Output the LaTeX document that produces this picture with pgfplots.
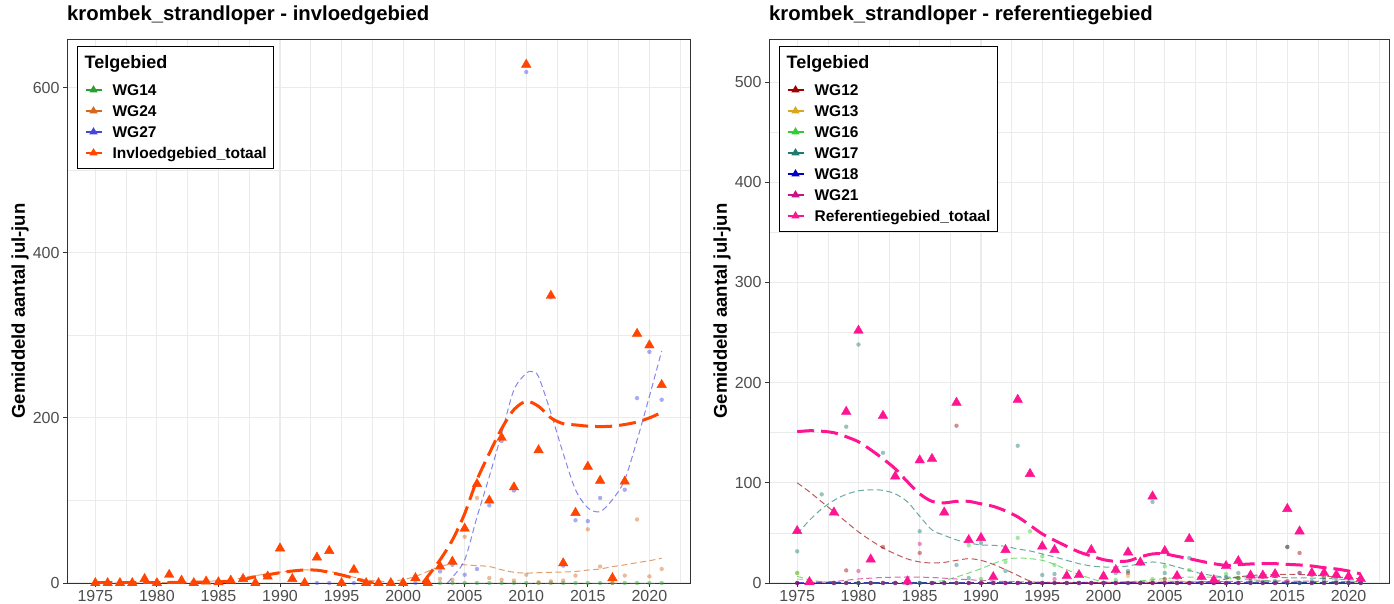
\documentclass[border=0pt]{standalone}
\usepackage{fontspec}
\setmainfont{Liberation Sans}
\usepackage{pgfplots}
\usepackage{pgfplotstable}
\pgfplotsset{compat=1.18}

\definecolor{gridc}{HTML}{EBEBEB}
\definecolor{framec}{HTML}{333333}
\definecolor{tickc}{HTML}{4D4D4D}
\definecolor{cWGa}{HTML}{2CA02C}
\definecolor{cWGb}{HTML}{D2691E}
\definecolor{cWGc}{HTML}{4545E0}
\definecolor{cTotL}{HTML}{FF4500}
\definecolor{cRa}{HTML}{A00000}
\definecolor{cRb}{HTML}{DAA520}
\definecolor{cRc}{HTML}{32CD32}
\definecolor{cRd}{HTML}{1B7A72}
\definecolor{cRe}{HTML}{0000CD}
\definecolor{cRf}{HTML}{C71585}
\definecolor{cTotR}{HTML}{FF1493}

% ---------------- left panel data ----------------
\pgfplotstableread{
year tot wga wgb wgc
1975 0 nan 0 nan
1976 0 nan 0 nan
1977 0 nan 0 nan
1978 0 nan 0 nan
1979 5 nan 5 nan
1980 0 nan 0 nan
1981 10 nan 10 nan
1982 3 nan 3 nan
1983 0 nan 0 nan
1984 2 nan 2 nan
1985 1 nan 1 nan
1986 3 nan 3 nan
1987 5 nan 5 nan
1988 0 nan 0 nan
1989 8 nan 8 nan
1990 42 nan 42 nan
1991 5 nan 5 nan
1992 0 nan 0 nan
1993 31 nan 31 0
1994 39 nan 39 0
1995 0 nan 0 0
1996 16 nan 16 0
1997 0 nan 0 0
1998 0 nan 0 0
1999 0 nan 0 0
2000 0 nan 0 0
2001 6 nan 6 0
2002 0 nan 0 0
2003 20 0 5 14
2004 26 0 4 22
2005 66 0 56 10
2006 120 0 103 17
2007 100 0 6 94
2008 176 0 4 172
2009 116 0 3 112
2010 628 0 10 619
2011 161 0 1 160
2012 348 0 2 346
2013 24 0 3 21
2014 85 0 9 76
2015 141 0 65 75
2016 124 0 20 103
2017 6 0 0 6
2018 123 0 9 113
2019 302 0 77 224
2020 288 0 8 280
2021 240 0 17 222
}\leftpts

\pgfplotstableread{
year v
1975 0.5
1977 0.5
1979 0.5
1981 0.6
1983 1
1985 1.5
1986 2.5
1987 4
1988 7.7
1989 10
1990 12.5
1991 14.5
1992 15.8
1993 15.5
1994 13
1995 9.7
1996 5.8
1997 1.5
1997.6 0
}\leftTotA

\pgfplotstableread{
year v
2001.6 0
2002 8
2003 28
2004 52
2005 84
2006 125
2007 157
2008 187
2009 210
2010 220
2011 214
2012 200
2013 193
2014 191.5
2015 190
2016 189.5
2017 190
2018 192
2019 195
2020 200
2021 206.5
}\leftTotB

\pgfplotstableread{
year v
1975 0
1978 0
1981 0.5
1984 2
1986 4
1988 9
1990 13
1992 16
1994 14
1996 7
1997 4
1998 2
1999 2
2000 4
2001 8
2002 14
2003 20
2004 23
2005 22
2006 21
2007 20
2008 16
2009 13
2010 12
2011 12.5
2012 13
2013 13.3
2014 14
2015 15.7
2016 17
2017 19.8
2018 22
2019 24.6
2020 27
2021 30
}\leftSmB

\pgfplotstableread{
year v
2003.6 0
2004 7
2005 28
2006 80
2007 129
2008 181
2009 234
2010 254
2010.5 256
2011 250
2012 206
2013 157
2014 113
2015 91
2016 86.5
2017 101
2018 125
2019 173
2020 226
2021 281
}\leftSmC

\pgfplotstableread{
year v
2003 0
2012 0
2021 0
}\leftSmA

% ---------------- right panel data ----------------
\pgfplotstableread{
year tot r12 r13 r16 r17 r18 r21
1975 52 0 10 10 31.6 0 0
1976 1 0 0 0 1 0 0
1977 nan nan nan nan 88.5 nan nan
1978 70.5 0 0 0 70 0 0
1979 171 12.6 0 0 156 0 0
1980 252 0 0 0 238 0 12
1981 23.6 0 0 0 23 0 0
1982 167 36 0 0 130 0 0
1983 106.5 0 0 0 106 0 0
1984 1.7 0 0 0 1.7 0 0
1985 122.5 30 0 0 51.6 0 39
1986 124 0 0 0 124 0 0
1987 70.5 0 0 0 70 0 0
1988 180 157 0 0 18 0 0
1989 43 0 0 37.6 5 0 0
1990 45 0 0 4 40 0 0
1991 6 0 0 0 6 0 0
1992 33 0 0 21 12 0 0
1993 183 0 0 45 137 0 0
1994 109 0 0 51.6 0 0 0
1995 36.6 0 0 26.6 8 0 0
1996 33 0 0 18 9 0 4
1997 7 0 0 0 7 0 0
1998 8 0 0 0 8 0 0
1999 33 0 0 0 33 0 0
2000 6.6 0 0 0 6 0 0
2001 13 0 0 3 10 0 0
2002 30.6 10 7 0 12 0 0
2003 20.6 0 0 0 19 0 0
2004 86.5 0 0 4 81 0 0
2005 32 4 0 16.6 10 0 0
2006 7 0 0 0 5 0 0
2007 44 0 0 13 25 0 0
2008 6 0 0 0 5 0 0
2009 3 0 0 0 3 0 0
2010 17 0 0 9 6 0 0
2011 22 5 0 5 10 0 0
2012 7.6 5 0 0 2 0 0
2013 7.6 6 0 0 1 0 0
2014 9 7 0 0 2 0 0
2015 74 36 0 0 36 0 2
2016 51.6 30 0 0 10 0 10
2017 10 8 0 0 2 0 0
2018 10 6 0 0 3 0 0
2019 8 6 0 0 2 0 0
2020 6.6 5 0 0 1 0 0
2021 4 3 0 0 1 0 0
}\rightpts

\pgfplotstableread{
year v
1975 151
1976 152
1977 151.5
1978 150
1979 146
1980 141
1981 133
1982 124
1983 114
1984 101
1985 89
1986 81.5
1987 80
1988 81.5
1989 81.5
1990 79
1991 76.5
1992 72
1993 66
1994 57.6
1995 49
1996 42.6
1997 36.6
1998 31
1999 27
2000 23.3
2001 21.6
2002 22
2003 26
2004 29
2005 29
2006 26.6
2007 24.3
2008 21.6
2009 19.3
2010 17.6
2011 18.3
2012 19
2013 19.3
2014 19.3
2015 18.6
2016 18
2017 17
2018 15.3
2019 14
2020 12
2021 9
}\rightTot

\pgfplotstableread{
year v
1975 49
1976 62.6
1977 74
1978 82.5
1979 88.5
1980 92
1981 93
1982 92.5
1983 89
1984 81
1985 66.6
1986 53
1987 47.6
1988 43
1989 40
1990 38
1991 37.6
1992 36.6
1993 34
1994 32
1995 29
1996 26
1997 22.6
1998 19.3
1999 17
2000 16
2001 16
2002 17
2003 19.3
2004 21
2005 19.3
2006 16
2007 12.6
2008 9.3
2009 7.3
2010 6
2012 6
2015 5.3
2018 4.6
2021 2.6
}\rightSmD

\pgfplotstableread{
year v
1975 100
1976 91
1977 81
1978 71
1979 61
1980 51
1981 42.6
1982 35
1983 29
1984 24
1985 21
1986 20
1987 20.6
1988 22.6
1989 24.3
1990 22.6
1991 18.6
1992 13.3
1993 7.6
1994 2
1995 0.3
1998 0.3
2002 0.3
2006 0.5
2008 1
2009 2
2010 4
2011 6
2012 7.5
2013 8
2014 8.5
2015 8.5
2016 8.5
2017 8
2018 7
2019 6
2020 5
2021 4
}\rightSmA

\pgfplotstableread{
year v
1975 6.6
1976 3.3
1977 1
1979 0.2
1982 0.2
1985 0.3
1986 1
1987 2.6
1988 6
1989 10
1990 14.3
1991 19.3
1992 23.6
1993 25
1994 24.3
1995 22.6
1996 18.6
1997 13.3
1998 8.6
1999 4.3
2000 1
2001 0.3
2002 1
2004 3.3
2006 5.3
2008 6
2010 5
2013 2.6
2016 1
2021 0.3
}\rightSmC

\pgfplotstableread{
year v
1976 0.5
1978 1.5
1980 4
1982 5.5
1984 6
1986 5.5
1988 4
1990 2.6
1992 1.5
1994 1
1996 0.5
2000 0.5
2005 1
2010 1.5
2015 2
2021 1
}\rightSmF

\pgfplotstableread{
year v
1975 4
1977 1.5
1980 0.5
1990 0.3
2000 1
2005 2
2010 1
2021 0.5
}\rightSmB

\pgfplotstableread{
year v
1975 0.2
2000 0.2
2021 0.2
}\rightSmE

\pgfplotsset{
  panel/.style={
    scale only axis, height=544pt, ymin=0, xmin=1972.7, xmax=2023.3,
    xtick={1975,1980,...,2020}, minor xtick={1977.5,1982.5,...,2022.5},
    grid=both,
    major grid style={draw=gridc, line width=1.1pt},
    minor grid style={draw=gridc, line width=0.6pt},
    axis line style={draw=framec, line width=0.9pt},
    tick style={draw=framec, line width=0.9pt},
    minor tick length=0pt, major tick length=4pt, tick align=outside, tickpos=left,
    ticklabel style={font=\fontsize{16}{16}\selectfont, text=tickc},
    x tick label style={/pgf/number format/1000 sep={}, /pgf/number format/assume math mode=true},
    y tick label style={/pgf/number format/assume math mode=true},
    title style={font=\fontsize{20.3}{20.3}\selectfont\bfseries, at={(axis description cs:0,1)}, anchor=base west, yshift=12pt, inner sep=0pt},
    every axis y label/.style={at={(axis description cs:0,0.5)}, xshift=-47pt, rotate=90, anchor=center, font=\fontsize{18.5}{18.5}\selectfont\bfseries},
    legend style={at={(axis description cs:0,1)}, anchor=north west, xshift=10pt, yshift=-7pt,
      draw=black, line width=0.8pt, fill=white, font=\fontsize{15.5}{15.5}\selectfont\bfseries,
      inner xsep=7pt, inner ysep=8.5pt, column sep=10pt, row sep=0pt,
      nodes={inner sep=0pt, text height=20pt, text depth=1pt}},
    legend cell align=left,
    dotp/.style={only marks, mark=*, mark size=2.2pt, fill opacity=0.45, draw opacity=0, forget plot},
    trip/.style={only marks, mark=triangle*, mark size=5.5pt, forget plot},
    thinsm/.style={smooth, line width=1pt, dash pattern=on 6pt off 3.5pt, draw opacity=0.65, forget plot, no marks},
    thicksm/.style={smooth, line width=3pt, dash pattern=on 17pt off 7pt, forget plot, no marks},
  },
}
\newcommand{\lt}[1]{\hspace*{-28pt}\raisebox{6pt}{\fontsize{18}{18}\selectfont #1}}

\begin{document}
\begin{tikzpicture}[x=1pt,y=1pt]
\useasboundingbox (0,0) rectangle (1394,603);

% ================= LEFT =================
\begin{axis}[panel, at={(67pt,20pt)}, anchor=south west, width=623pt, ymax=659,
  ytick={0,200,400,600}, minor ytick={100,300,500},
  title={krombek\_strandloper - invloedgebied},
  ylabel={Gemiddeld aantal jul-jun},
  legend image code/.code={\draw[#1, line width=2.2pt, solid] (0pt,-3.5pt) -- (16pt,-3.5pt);
     \draw[#1, solid, mark=triangle*, mark size=4pt] plot coordinates {(8pt,-3.5pt)};}]
\addplot[dotp, cWGa] table[x=year, y=wga] {\leftpts};
\addplot[dotp, cWGb] table[x=year, y=wgb] {\leftpts};
\addplot[dotp, cWGc] table[x=year, y=wgc] {\leftpts};
\addplot[thinsm, cWGa] table[x=year, y=v] {\leftSmA};
\addplot[thinsm, cWGb] table[x=year, y=v] {\leftSmB};
\addplot[thinsm, cWGc] table[x=year, y=v] {\leftSmC};
\addplot[trip, cTotL] table[x=year, y=tot] {\leftpts};
\addplot[thicksm, cTotL] table[x=year, y=v] {\leftTotA};
\addplot[thicksm, cTotL] table[x=year, y=v] {\leftTotB};
\addlegendimage{empty legend}\addlegendentry{\lt{Telgebied}}
\addlegendimage{cWGa, fill=cWGa}\addlegendentry{WG14}
\addlegendimage{cWGb, fill=cWGb}\addlegendentry{WG24}
\addlegendimage{cWGc, fill=cWGc}\addlegendentry{WG27}
\addlegendimage{cTotL, fill=cTotL}\addlegendentry{Invloedgebied\_totaal}
\end{axis}

% ================= RIGHT =================
\begin{axis}[panel, at={(769pt,20pt)}, anchor=south west, width=620pt, ymax=543,
  ytick={0,100,...,500}, minor ytick={50,150,...,550},
  title={krombek\_strandloper - referentiegebied},
  ylabel={Gemiddeld aantal jul-jun},
  legend image code/.code={\draw[#1, line width=2.2pt, solid] (0pt,-3.5pt) -- (16pt,-3.5pt);
     \draw[#1, solid, mark=triangle*, mark size=4pt] plot coordinates {(8pt,-3.5pt)};}]
\addplot[dotp, cRa] table[x=year, y=r12] {\rightpts};
\addplot[dotp, cRb] table[x=year, y=r13] {\rightpts};
\addplot[dotp, cRc] table[x=year, y=r16] {\rightpts};
\addplot[dotp, cRd] table[x=year, y=r17] {\rightpts};
\addplot[dotp, cRe] table[x=year, y=r18] {\rightpts};
\addplot[dotp, cRf] table[x=year, y=r21] {\rightpts};
\addplot[thinsm, cRa] table[x=year, y=v] {\rightSmA};
\addplot[thinsm, cRb] table[x=year, y=v] {\rightSmB};
\addplot[thinsm, cRc] table[x=year, y=v] {\rightSmC};
\addplot[thinsm, cRd] table[x=year, y=v] {\rightSmD};
\addplot[thinsm, cRe] table[x=year, y=v] {\rightSmE};
\addplot[thinsm, cRf] table[x=year, y=v] {\rightSmF};
\addplot[trip, cTotR] table[x=year, y=tot] {\rightpts};
\addplot[thicksm, cTotR] table[x=year, y=v] {\rightTot};
\addlegendimage{empty legend}\addlegendentry{\lt{Telgebied}}
\addlegendimage{cRa, fill=cRa}\addlegendentry{WG12}
\addlegendimage{cRb, fill=cRb}\addlegendentry{WG13}
\addlegendimage{cRc, fill=cRc}\addlegendentry{WG16}
\addlegendimage{cRd, fill=cRd}\addlegendentry{WG17}
\addlegendimage{cRe, fill=cRe}\addlegendentry{WG18}
\addlegendimage{cRf, fill=cRf}\addlegendentry{WG21}
\addlegendimage{cTotR, fill=cTotR}\addlegendentry{Referentiegebied\_totaal}
\end{axis}
\end{tikzpicture}
\end{document}
